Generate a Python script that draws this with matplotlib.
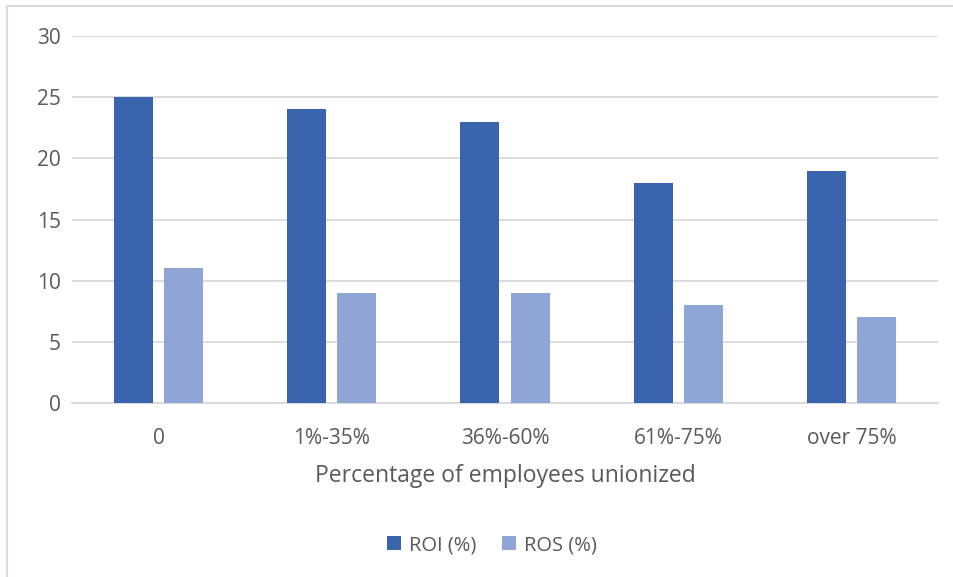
import matplotlib
matplotlib.use("Agg")
import matplotlib.pyplot as plt
import numpy as np
from matplotlib.patches import Rectangle

categories = ["0", "1%-35%", "36%-60%", "61%-75%", "over 75%"]
roi = [25, 24, 23, 18, 19]
ros = [11, 9, 9, 8, 7]
series_labels = ["ROI (%)", "ROS (%)"]
yticks = [0, 5, 10, 15, 20, 25, 30]

plt.rcParams["font.family"] = ["Open Sans", "DejaVu Sans"]
text_color = "#595959"
grid_color = "#D9D9D9"
c_roi = "#3A63AD"
c_ros = "#8FA5D5"

W, H = 954, 577
fig = plt.figure(figsize=(W / 100, H / 100), dpi=100)

# outer chart frame (only top and left edges fall inside the canvas)
fig.add_artist(Rectangle((7 / W, -0.1), 1.2, (H - 6) / H + 0.1, transform=fig.transFigure,
                         fill=False, edgecolor=grid_color, linewidth=1.5))

ax = fig.add_axes([72 / W, 1 - 403 / H, (938 - 72) / W, (403 - 36) / H])
x = np.arange(len(categories))
bw = 0.225
off = 0.145
ax.bar(x - off, roi, bw, color=c_roi, label=series_labels[0], zorder=3)
ax.bar(x + off, ros, bw, color=c_ros, label=series_labels[1], zorder=3)

ax.set_xlim(-0.5, len(categories) - 0.5)
ax.set_ylim(0, 30)
ax.set_yticks(yticks)
ax.yaxis.grid(True, color=grid_color, linewidth=1.3, zorder=0)
for s in ["top", "right", "left"]:
    ax.spines[s].set_visible(False)
ax.spines["bottom"].set_color(grid_color)
ax.spines["bottom"].set_linewidth(1.3)
ax.tick_params(axis="both", length=0, labelsize=15, colors=text_color)
ax.tick_params(axis="y", pad=8)
ax.tick_params(axis="x", pad=18)
ax.set_xticks(x)
ax.set_xticklabels(categories)
ax.set_xlabel("Percentage of employees unionized", fontsize=16.5, color=text_color, labelpad=11)

leg = fig.legend(loc="center", bbox_to_anchor=(492 / W, 1 - 545 / H), ncol=2, frameon=False,
                 fontsize=14.5, handlelength=0.7, handleheight=0.7, columnspacing=1.3,
                 handletextpad=0.4)
for t in leg.get_texts():
    t.set_color(text_color)

fig.savefig("out.png", dpi=100)
